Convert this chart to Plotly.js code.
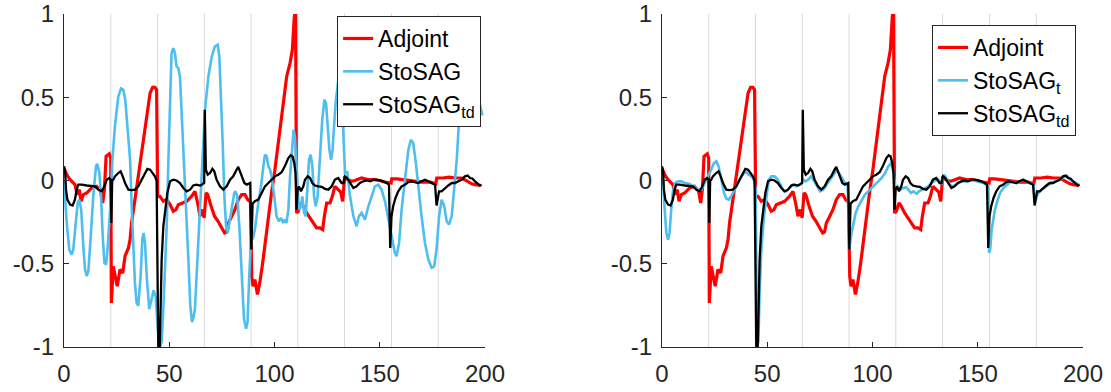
<!DOCTYPE html>
<html>
<head>
<meta charset="utf-8">
<script src="https://cdn.plot.ly/plotly-3.0.1.min.js"></script>
<style>html,body{margin:0;padding:0;background:#fff;}#chart{width:1111px;height:392px;}</style>
</head>
<body>
<div id="chart"></div>
<script>
// ---- data ----
var xTicks = [0, 50, 100, 150, 200];
var xTickText = ['0', '50', '100', '150', '200'];
var yTicks = [-1, -0.5, 0, 0.5, 1];
var yTickText = ['-1', '-0.5', '0', '0.5', '1'];
var gridX = [22.2, 44.4, 66.7, 88.9, 111.1, 133.3, 155.6, 177.8];

var legendNamesLeft = ['Adjoint', 'StoSAG', 'StoSAG<sub>td</sub>'];
var legendNamesRight = ['Adjoint', 'StoSAG<sub>t</sub>', 'StoSAG<sub>td</sub>'];

var adjX = [0.5,1.5,2.9,3.6,5.2,6.3,7.3,8.1,9.2,10.8,13.1,15.5,17.4,18.4,19.2,20.0,21.5,22.2,22.5,23.4,24.2,25.3,26.6,27.9,29.0,30.6,31.4,32.1,33.7,35.3,36.9,38.5,39.6,40.9,42.1,43.2,44.0,44.5,45.6,47.2,48.8,50.4,51.9,53.2,54.3,55.9,58.3,60.6,62.2,63.5,64.6,65.7,66.6,67.5,68.3,69.8,71.5,73.2,74.7,76.3,77.2,78.1,79.7,81.2,82.8,84.4,86.0,87.3,88.6,89.2,89.8,90.7,91.9,93.0,94.4,95.5,97.1,98.6,100.2,101.8,103.1,104.2,105.8,107.4,108.5,109.4,110.0,110.5,111.3,112.6,113.7,115.3,116.9,118.5,120.0,121.6,122.9,123.7,124.8,126.4,127.5,128.7,130.3,131.5,132.4,133.3,135.1,136.7,138.2,139.8,141.4,143.0,144.6,147.0,150.1,152.5,154.4,155.4,155.7,158.0,161.0,164.0,167.0,170.0,174.0,176.6,177.1,180.0,183.0,186.0,189.0,190.5,192.1,193.7,195.3,196.9,198.1];
var adjY = [0.06,0.03,0.005,-0.005,-0.025,-0.085,-0.055,-0.125,-0.085,-0.075,-0.045,-0.035,-0.065,-0.135,-0.055,0.145,0.16,0.135,-0.735,-0.515,-0.575,-0.635,-0.535,-0.555,-0.455,-0.405,-0.355,-0.255,-0.115,0.025,0.185,0.305,0.425,0.525,0.56,0.56,0.545,-0.095,-0.095,-0.125,-0.115,-0.145,-0.185,-0.175,-0.145,-0.135,-0.125,-0.095,-0.065,-0.135,-0.215,-0.175,-0.225,-0.075,-0.085,-0.15,-0.215,-0.245,-0.275,-0.315,-0.31,-0.255,-0.215,-0.175,-0.115,-0.085,-0.085,-0.115,-0.13,-0.575,-0.635,-0.595,-0.685,-0.615,-0.495,-0.375,-0.215,-0.075,0.065,0.225,0.365,0.465,0.625,0.705,0.785,0.98,1.03,-0.195,-0.185,-0.135,-0.155,-0.195,-0.225,-0.255,-0.285,-0.285,-0.295,-0.215,-0.135,-0.135,-0.095,-0.035,-0.055,-0.07,-0.125,0.015,0.005,-0.005,0.0,0.01,0.015,0.01,0.005,0.005,0.0,-0.01,-0.015,-0.015,0.01,0.01,0.005,0.0,-0.005,-0.01,-0.01,-0.02,0.015,0.015,0.02,0.015,0.015,0.005,-0.005,-0.02,-0.025,-0.03,-0.03];

var stosagX = [0.0,1.3,2.5,3.6,4.4,5.5,6.5,7.3,8.2,9.2,10.0,10.8,11.6,12.7,13.9,15.2,15.8,16.8,17.6,18.4,19.2,20.0,20.7,21.9,23.0,24.2,25.8,27.1,28.2,29.1,30.2,31.4,32.1,32.9,33.7,34.5,35.3,36.4,37.2,37.8,38.5,39.3,40.1,40.5,41.5,42.6,43.6,44.6,45.6,46.4,47.2,48.8,49.6,50.4,51.1,51.9,52.7,53.5,54.3,55.1,55.9,57.0,58.0,59.1,60.0,60.8,61.6,62.2,63.0,63.8,64.6,65.7,67.0,68.6,70.2,71.7,73.0,73.8,74.6,75.4,76.2,77.0,77.8,78.5,79.7,80.9,81.5,82.3,83.3,84.4,85.5,86.5,87.2,88.0,88.8,90.0,90.7,92.3,93.6,94.7,95.5,96.3,97.1,97.9,98.6,99.9,101.0,102.1,103.1,104.2,104.9,105.7,106.6,107.4,108.5,109.1,109.7,110.2,111.0,111.6,112.6,113.2,114.1,114.8,115.6,116.4,117.2,118.0,118.8,119.6,120.5,121.6,122.7,123.7,124.5,125.3,126.1,126.9,127.6,128.4,129.2,130.5,131.7,132.5,133.5,134.6,135.9,137.5,139.0,140.1,141.4,143.0,144.5,146.2,147.7,149.3,150.9,152.5,154.1,155.6,157.2,158.0,159.2,160.4,162.0,163.6,164.8,165.9,167.0,168.3,169.9,171.5,173.1,174.7,175.9,177.0,178.2,179.4,180.7,181.8,182.9,184.2,185.4,186.6,187.7,189.0,191.0,193.5,195.5,197.4,198.8];
var stosagY = [0.0,-0.255,-0.415,-0.445,-0.415,-0.255,-0.135,-0.115,-0.18,-0.4,-0.535,-0.575,-0.54,-0.335,-0.095,0.085,0.1,0.045,-0.095,-0.335,-0.495,-0.505,-0.415,-0.175,0.125,0.325,0.505,0.553,0.545,0.485,0.325,0.125,-0.135,-0.375,-0.615,-0.735,-0.752,-0.575,-0.355,-0.315,-0.375,-0.575,-0.735,-0.772,-0.72,-0.66,-0.7,-0.9,-1.0,-0.97,-0.77,-0.275,0.125,0.525,0.765,0.795,0.765,0.685,0.675,0.625,0.425,0.125,-0.175,-0.475,-0.75,-0.85,-0.82,-0.77,-0.575,-0.375,-0.175,0.125,0.425,0.625,0.745,0.805,0.815,0.745,0.525,0.225,-0.095,-0.275,-0.315,-0.255,-0.155,-0.075,-0.065,-0.095,-0.275,-0.575,-0.83,-0.89,-0.85,-0.575,-0.375,-0.335,-0.295,-0.135,-0.035,0.085,0.155,0.145,0.085,0.065,0.025,-0.095,-0.215,-0.245,-0.225,-0.255,-0.235,-0.255,-0.175,0.025,0.185,0.305,0.265,0.125,-0.075,-0.175,-0.155,-0.095,-0.195,-0.215,-0.055,0.125,0.155,0.085,-0.095,-0.155,-0.095,0.125,0.365,0.485,0.465,0.325,0.185,0.125,0.185,0.345,0.485,0.62,0.55,0.35,0.045,0.05,-0.095,-0.215,-0.275,-0.215,-0.195,-0.235,-0.16,-0.095,-0.035,-0.025,-0.055,-0.125,-0.235,-0.335,-0.435,-0.455,-0.375,-0.175,0.025,0.185,0.245,0.225,0.125,-0.035,-0.215,-0.375,-0.475,-0.525,-0.515,-0.415,-0.215,-0.115,-0.155,-0.245,-0.265,-0.215,-0.055,0.125,0.365,0.5,0.56,0.55,0.53,0.47,0.39];

var stosagTdX = [0.0,0.5,0.95,1.6,2.9,4.1,5.2,6.0,6.8,8.4,10.8,13.1,14.7,16.3,17.9,19.2,20.3,21.5,22.2,22.5,22.9,23.4,24.2,25.8,26.9,27.9,29.0,30.6,32.1,33.7,35.3,36.9,38.5,39.6,40.9,42.1,43.2,44.0,44.8,45.5,46.4,47.2,48.0,49.1,50.4,51.9,53.5,55.1,56.7,58.3,59.9,61.4,63.0,64.6,65.4,66.6,66.9,67.4,68.3,69.4,70.5,71.4,72.5,74.1,75.7,77.3,78.9,80.4,82.0,82.8,83.6,84.4,85.7,86.8,88.5,89.0,89.6,90.7,92.3,93.9,95.5,97.1,98.6,100.2,101.8,103.4,104.9,106.6,107.7,108.6,109.4,110.0,110.5,111.0,111.6,112.6,113.7,114.5,115.8,116.9,118.0,119.2,120.8,122.4,124.0,125.6,127.2,128.7,130.3,131.9,132.8,133.5,134.5,135.9,137.5,139.0,140.6,142.2,143.8,145.4,147.0,148.5,150.1,151.7,153.3,154.4,155.0,155.6,156.4,157.5,158.8,160.4,162.0,163.6,165.1,166.7,168.3,169.9,171.5,173.1,174.7,176.3,177.0,177.5,178.2,179.4,181.0,182.6,184.2,185.8,187.4,189.0,190.5,191.8,192.9,194.0,195.3,196.5,197.6,198.4];
var stosagTdY = [0.085,0.065,-0.055,-0.115,-0.145,-0.15,-0.115,-0.055,-0.025,-0.025,-0.03,-0.032,-0.035,-0.055,-0.065,-0.035,0.005,0.015,0.005,-0.255,0.0,0.005,0.025,0.045,0.055,0.025,-0.015,-0.055,-0.058,-0.055,-0.035,0.005,0.045,0.07,0.065,0.045,0.025,0.0,-1.0,-1.0,-0.475,-0.275,-0.175,-0.075,-0.005,0.005,0.0,-0.015,-0.045,-0.065,-0.055,-0.03,-0.025,-0.03,-0.025,-0.015,0.425,0.065,0.035,0.045,0.07,0.055,0.005,-0.035,-0.055,-0.035,0.005,0.025,0.065,0.082,0.055,0.025,-0.015,-0.025,-0.015,-0.415,-0.14,-0.125,-0.115,-0.075,-0.035,-0.015,0.005,0.025,0.035,0.05,0.085,0.135,0.152,0.145,0.105,0.045,-0.175,-0.055,-0.035,-0.065,-0.035,0.005,0.025,0.015,-0.015,-0.03,-0.035,-0.038,-0.05,-0.055,-0.035,0.005,0.015,-0.015,-0.015,0.025,0.015,-0.015,-0.045,-0.035,-0.015,-0.005,0.0,-0.005,0.005,0.005,0.0,-0.005,-0.015,-0.025,-0.405,-0.215,-0.155,-0.105,-0.065,-0.035,-0.025,-0.01,-0.005,-0.01,-0.015,-0.005,0.005,-0.005,-0.015,-0.025,-0.15,-0.1,-0.065,-0.065,-0.045,-0.03,-0.015,-0.015,-0.005,0.005,0.025,0.03,0.015,0.012,-0.005,-0.018,-0.03,-0.025];

var stosagTX = [0.0,0.5,1.3,2.1,2.9,3.6,4.4,5.2,6.3,7.6,9.2,10.8,12.4,13.9,15.5,17.1,18.7,20.3,21.5,22.2,23.2,24.7,25.8,26.9,28.2,29.5,30.6,31.7,32.9,34.5,36.1,37.7,39.0,40.1,41.2,42.5,43.6,44.5,45.2,45.8,46.4,47.2,48.5,49.6,50.7,51.9,53.5,55.1,56.7,57.9,59.1,60.6,62.2,63.8,64.8,66.3,67.1,68.2,69.5,70.8,71.9,73.5,75.1,76.6,78.2,79.8,81.4,83.0,84.1,85.4,86.9,88.2,89.0,89.8,91.0,92.0,93.3,94.9,96.4,98.0,99.6,101.2,102.8,104.4,106.0,107.5,108.6,109.6,110.4,111.0,112.0,113.1,114.6,116.0,117.0,118.3,119.4,121.0,122.1,123.4,125.0,126.5,128.1,129.7,131.3,132.9,134.1,135.0,136.6,138.2,139.8,141.5,143.2,144.7,146.3,147.9,149.5,151.1,152.7,154.2,155.0,155.4,155.9,156.6,157.4,158.2,159.5,160.6,162.2,163.7,165.3,166.9,168.5,170.1,171.7,173.2,174.8,176.4,177.2,178.0,179.1,180.4,181.9,183.5,185.1,186.7,188.3,189.9,191.4,192.7,193.8,195.4,196.9,198.0];
var stosagTY = [0.02,-0.015,-0.175,-0.315,-0.355,-0.315,-0.175,-0.065,-0.015,-0.005,-0.005,-0.015,-0.018,-0.025,-0.035,-0.055,-0.055,-0.015,0.015,0.025,0.06,0.105,0.115,0.085,0.005,-0.075,-0.11,-0.115,-0.095,-0.055,-0.015,0.025,0.045,0.05,0.035,0.025,0.005,-0.05,-0.99,-0.97,-0.675,-0.415,-0.215,-0.095,0.005,0.025,0.025,0.005,-0.035,-0.065,-0.065,-0.045,-0.025,-0.035,-0.025,-0.015,0.005,-0.005,0.005,0.025,0.005,-0.035,-0.065,-0.055,-0.025,0.005,0.035,0.062,0.045,0.015,-0.015,-0.025,-0.415,-0.335,-0.255,-0.195,-0.155,-0.115,-0.085,-0.065,-0.045,-0.025,-0.005,0.015,0.045,0.085,0.102,0.075,0.005,-0.055,-0.035,-0.055,-0.045,-0.04,-0.055,-0.075,-0.065,-0.08,-0.065,-0.055,-0.045,-0.035,-0.015,0.0,0.005,-0.015,0.035,0.01,-0.025,-0.035,-0.025,-0.01,-0.005,-0.005,0.0,0.0,-0.005,-0.01,-0.015,-0.025,-0.035,-0.435,-0.415,-0.295,-0.225,-0.175,-0.115,-0.075,-0.045,-0.025,-0.01,-0.01,-0.015,-0.005,0.005,-0.005,-0.015,-0.025,-0.135,-0.095,-0.07,-0.055,-0.04,-0.025,-0.015,-0.005,0.0,0.015,0.025,0.025,0.005,-0.005,-0.018,-0.025];

// ---- styles ----
var RED = '#ff0000', BLUE = '#4dbeee', BLACK = '#000000', AX = '#262626';
var FONT = 'Liberation Sans, Arial, Helvetica, sans-serif';

function line(x, y, name, color, width, xa, ya, leg, show) {
  return {x: x, y: y, name: name, type: 'scatter', mode: 'lines',
          line: {color: color, width: width}, xaxis: xa, yaxis: ya,
          legend: leg, showlegend: show, hoverinfo: 'skip'};
}

var traces = [
  line(adjX, adjY, legendNamesLeft[0], RED, 3.2, 'x', 'y', 'legend', true),
  line(stosagX, stosagY, legendNamesLeft[1], BLUE, 2.6, 'x', 'y', 'legend', true),
  line(stosagTdX, stosagTdY, legendNamesLeft[2], BLACK, 2.3, 'x', 'y', 'legend', true),
  line(adjX, adjY, legendNamesRight[0], RED, 3.2, 'x2', 'y2', 'legend2', true),
  line(stosagTX, stosagTY, legendNamesRight[1], BLUE, 2.6, 'x2', 'y2', 'legend2', true),
  line(stosagTdX, stosagTdY, legendNamesRight[2], BLACK, 2.3, 'x2', 'y2', 'legend2', true)
];

function xAxis(domain, anchor) {
  return {domain: domain, anchor: anchor, range: [0, 200], tickvals: xTicks, ticktext: xTickText,
          ticks: 'inside', ticklen: 5, tickcolor: AX, showline: true, linecolor: AX, linewidth: 1,
          showgrid: false, zeroline: false, fixedrange: true, ticklabelstandoff: 5,
          tickfont: {family: FONT, size: 24, color: AX}};
}
function yAxis(anchor) {
  return {domain: [0, 1], anchor: anchor, range: [-1, 1], tickvals: yTicks, ticktext: yTickText,
          ticks: 'inside', ticklen: 5, tickcolor: AX, showline: true, linecolor: AX, linewidth: 1,
          showgrid: false, zeroline: false, fixedrange: true, ticklabelstandoff: 4,
          tickfont: {family: FONT, size: 24, color: AX}};
}

var shapes = [];
['x', 'x2'].forEach(function (xr) {
  gridX.forEach(function (g) {
    shapes.push({type: 'line', xref: xr, yref: (xr === 'x' ? 'y' : 'y2') + ' domain',
                 x0: g, x1: g, y0: 0, y1: 1, layer: 'below',
                 line: {color: '#d9d9d9', width: 1}});
  });
});

var legendStyle = function (x, y) {
  return {x: x, y: y, xanchor: 'left', yanchor: 'top', bgcolor: '#ffffff',
          bordercolor: AX, borderwidth: 1, tracegroupgap: 0,
          font: {family: FONT, size: 23, color: '#000000'}};
};

var layout = {
  width: 1111, height: 392,
  margin: {l: 64, r: 28, t: 14, b: 45},
  paper_bgcolor: '#ffffff', plot_bgcolor: '#ffffff',
  xaxis: xAxis([0, 0.4131], 'y'),
  yaxis: yAxis('x'),
  xaxis2: xAxis([0.5868, 1], 'y2'),
  yaxis2: yAxis('x2'),
  shapes: shapes,
  legend: legendStyle(0.268, 0.994),
  legend2: legendStyle(0.8518, 0.967),
  font: {family: FONT}
};

Plotly.newPlot('chart', traces, layout, {displayModeBar: false, staticPlot: true});
</script>
</body>
</html>
